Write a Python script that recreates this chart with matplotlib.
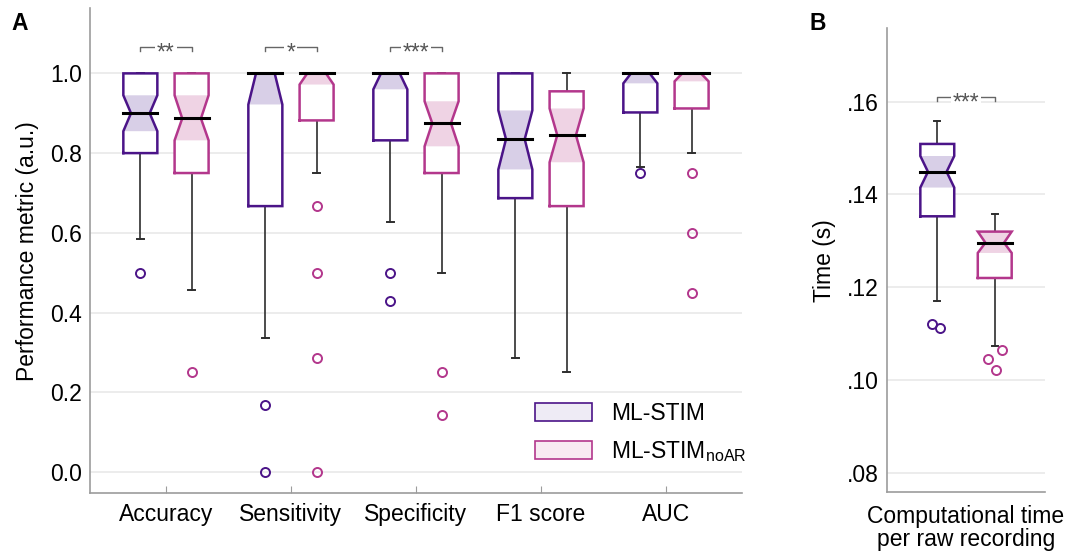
import matplotlib

matplotlib.use("Agg")
import matplotlib.pyplot as plt
from matplotlib.patches import Patch
from matplotlib.ticker import FuncFormatter
from matplotlib.transforms import offset_copy

plt.rcParams["font.family"] = ["Liberation Sans", "DejaVu Sans"]
plt.rcParams["mathtext.fontset"] = "custom"
plt.rcParams["mathtext.rm"] = "Liberation Sans"

# ---- panel A data (box statistics) ----
metrics = ["Accuracy", "Sensitivity", "Specificity", "F1 score", "AUC"]

stim_q1 = [0.80, 0.667, 0.832, 0.687, 0.902]
stim_q3 = [1.0, 1.0, 1.0, 1.0, 1.0]
stim_med = [0.90, 1.0, 1.0, 0.835, 1.0]
stim_cilo = [0.855, 0.922, 0.96, 0.759, 0.975]
stim_cihi = [0.945, 1.0, 1.0, 0.907, 1.0]
stim_whislo = [0.584, 0.336, 0.627, 0.286, 0.765]
stim_whishi = [1.0, 1.0, 1.0, 1.0, 1.0]
stim_fliers = [[0.5], [0.167, 0.0], [0.5, 0.429], [], [0.75]]

noar_q1 = [0.75, 0.882, 0.75, 0.667, 0.912]
noar_q3 = [1.0, 1.0, 1.0, 0.955, 1.0]
noar_med = [0.887, 1.0, 0.875, 0.845, 1.0]
noar_cilo = [0.832, 0.972, 0.817, 0.777, 0.98]
noar_cihi = [0.945, 1.0, 0.93, 0.912, 1.0]
noar_whislo = [0.456, 0.749, 0.5, 0.25, 0.80]
noar_whishi = [1.0, 1.0, 1.0, 1.0, 1.0]
noar_fliers = [[0.25], [0.667, 0.5, 0.286, 0.0], [0.25, 0.143], [], [0.75, 0.6, 0.45]]

sig_a = ["**", "*", "***", "", ""]

# ---- panel B data ----
time_label = "Computational time\nper raw recording"
time_q1 = [0.1353, 0.1220]
time_q3 = [0.1509, 0.1320]
time_med = [0.1449, 0.1296]
time_cilo = [0.1415, 0.1274]
time_cihi = [0.1483, 0.1320]
time_whislo = [0.1170, 0.1073]
time_whishi = [0.1559, 0.1359]
time_fliers = [[0.1120, 0.1112], [0.1046, 0.1064, 0.1021]]
sig_b = "***"

# ---- style ----
PURPLE = "#4B1488"
PINK = "#B3378C"
PURPLE_SHADE = "#D8CFE7"
PINK_SHADE = "#EFD3E4"
PURPLE_LEG = "#EEEBF5"
PINK_LEG = "#F8EAF2"
GRID = "#E9E9E9"
SPINE = "#9C9C9C"
FS = 16.5


def draw_box(ax, x, w, q1, q3, med, cilo, cihi, wlo, whi, fliers, color, shade,
             cap_w, flier_dx=None):
    cihi = min(cihi, q3)
    cilo = max(cilo, q1)
    hw = w / 2
    nw = hw * 0.55
    xs = [x - hw, x - hw, x - nw, x - hw, x - hw, x + hw, x + hw, x + nw, x + hw, x + hw, x - hw]
    ys = [q1, cilo, med, cihi, q3, q3, cihi, med, cilo, q1, q1]
    ax.fill(xs, ys, color="white", lw=0, zorder=2)
    ax.fill([x - hw, x - nw, x - hw, x + hw, x + nw, x + hw],
            [cilo, med, cihi, cihi, med, cilo], color=shade, lw=0, zorder=2.5)
    ax.plot(xs, ys, color=color, lw=1.8, zorder=3, solid_joinstyle="miter")
    if wlo < q1:
        ax.plot([x, x], [q1, wlo], color="#2E2E2E", lw=1.2, zorder=1.5)
        ax.plot([x - cap_w / 2, x + cap_w / 2], [wlo, wlo], color="#2E2E2E", lw=1.4, zorder=1.5)
    if whi > q3:
        ax.plot([x, x], [q3, whi], color="#2E2E2E", lw=1.2, zorder=1.5)
    ax.plot([x - cap_w / 2, x + cap_w / 2], [whi, whi], color="#2E2E2E", lw=1.4, zorder=1.5)
    ax.plot([x - hw, x + hw], [med, med], color="black", lw=2.2, zorder=4)
    if fliers:
        dx = flier_dx if flier_dx is not None else [0] * len(fliers)
        ax.plot([x + d for d in dx], fliers, "o", mfc="none", mec=color, mew=1.4,
                ms=6.5, zorder=3)


def bracket(ax, fig, x1, x2, y, drop, stars):
    ax.plot([x1, x1, x2, x2], [y - drop, y, y, y - drop], color="#666666", lw=1.0,
            zorder=3, clip_on=False)
    tr = offset_copy(ax.transData, fig=fig, y=-9.0, units="points")
    ax.text((x1 + x2) / 2, y, stars, transform=tr, ha="center", va="baseline",
            fontsize=FS, color="#555555", zorder=4,
            bbox=dict(facecolor="white", edgecolor="none", pad=1.5))


def style_axes(ax):
    for s in ["top", "right"]:
        ax.spines[s].set_visible(False)
    for s in ["left", "bottom"]:
        ax.spines[s].set_color(SPINE)
        ax.spines[s].set_linewidth(1.2)
    ax.yaxis.grid(True, color=GRID, lw=1.2, zorder=0)
    ax.set_axisbelow(True)
    ax.tick_params(axis="y", length=0, pad=6, labelsize=FS)
    ax.tick_params(axis="x", direction="in", length=5, color=SPINE, pad=7, labelsize=FS)


fig = plt.figure(figsize=(10.66, 5.53), dpi=100)

# ---------------- panel A ----------------
axA = fig.add_axes([0.0844, 0.108, 0.6114, 0.8775])
off, bw, capA = 0.205, 0.272, 0.054
for i in range(len(metrics)):
    xc = i + 1
    draw_box(axA, xc - off, bw, stim_q1[i], stim_q3[i], stim_med[i], stim_cilo[i],
             stim_cihi[i], stim_whislo[i], stim_whishi[i], stim_fliers[i], PURPLE,
             PURPLE_SHADE, capA)
    draw_box(axA, xc + off, bw, noar_q1[i], noar_q3[i], noar_med[i], noar_cilo[i],
             noar_cihi[i], noar_whislo[i], noar_whishi[i], noar_fliers[i], PINK,
             PINK_SHADE, capA)
    if sig_a[i]:
        bracket(axA, fig, xc - off, xc + off, 1.066, 0.009, sig_a[i])

axA.set_xlim(0.392, 5.606)
axA.set_ylim(-0.0535, 1.164)
axA.set_xticks(range(1, len(metrics) + 1))
axA.set_xticklabels(metrics)
axA.set_yticks([0.0, 0.2, 0.4, 0.6, 0.8, 1.0])
axA.yaxis.set_major_formatter(FuncFormatter(lambda v, p: f"{v:.1f}"))
axA.set_ylabel("Performance metric (a.u.)", fontsize=FS, labelpad=8)
style_axes(axA)

handles = [Patch(facecolor=PURPLE_LEG, edgecolor=PURPLE, lw=1.2),
           Patch(facecolor=PINK_LEG, edgecolor=PINK, lw=1.2)]
axA.legend(handles, ["ML-STIM", r"ML-STIM$_{\mathrm{noAR}}$"], loc="upper left",
           bbox_to_anchor=(0.683, 0.188), frameon=False, fontsize=FS,
           handlelength=2.5, handleheight=0.8, handletextpad=0.8,
           labelspacing=0.6, borderpad=0, borderaxespad=0)

fig.text(0.011, 0.945, "A", fontsize=FS, fontweight="bold")

# ---------------- panel B ----------------
axB = fig.add_axes([0.8321, 0.1098, 0.1482, 0.8396])
offB, bwB, capB = 0.2, 0.236, 0.04
flier_jitter = [[-0.038, 0.017], [-0.049, 0.049, 0.007]]
draw_box(axB, 1 - offB, bwB, time_q1[0], time_q3[0], time_med[0], time_cilo[0],
         time_cihi[0], time_whislo[0], time_whishi[0], time_fliers[0], PURPLE,
         PURPLE_SHADE, capB, flier_jitter[0])
draw_box(axB, 1 + offB, bwB, time_q1[1], time_q3[1], time_med[1], time_cilo[1],
         time_cihi[1], time_whislo[1], time_whishi[1], time_fliers[1], PINK,
         PINK_SHADE, capB, flier_jitter[1])
bracket(axB, fig, 1 - offB, 1 + offB, 0.1611, 0.0009, sig_b)

axB.set_xlim(0.45, 1.55)
axB.set_ylim(0.0758, 0.1759)
axB.set_xticks([1])
axB.set_xticklabels([time_label], linespacing=1.0)
axB.set_yticks([0.08, 0.10, 0.12, 0.14, 0.16])
axB.yaxis.set_major_formatter(FuncFormatter(lambda v, p: f"{v:.2f}".lstrip("0")))
axB.set_ylabel("Time (s)", fontsize=FS, labelpad=8)
style_axes(axB)
axB.tick_params(axis="x", length=0, pad=9)

fig.text(0.759, 0.945, "B", fontsize=FS, fontweight="bold")

fig.savefig("out.png", dpi=100)
plt.close(fig)
